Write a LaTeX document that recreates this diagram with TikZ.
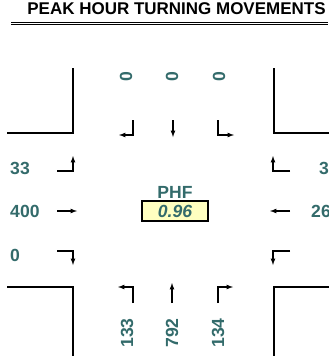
\documentclass[tikz,border=0pt]{standalone}
\usepackage{fontspec}
\setmainfont{Liberation Sans}
\usetikzlibrary{arrows}
\definecolor{volcol}{HTML}{336B6B}
\definecolor{phffill}{HTML}{FFFFC0}
\tikzset{
 vol/.style={text=volcol,font=\fontsize{15}{17}\selectfont\bfseries,inner sep=0pt},
 road/.style={line width=1.6pt},
 mv/.style={->,line width=0.9pt}
}
\begin{document}
\begin{tikzpicture}[x=0.03cm,y=-0.03cm,>=latex]
 \useasboundingbox (0,0) rectangle (328,356);
 \node[inner sep=0pt,font=\fontsize{14.5}{17}\selectfont\bfseries] (title) at (176.5,9) {PEAK HOUR TURNING MOVEMENTS};
 \draw[line width=0.8pt] (11,22.7) -- (328,22.7);
 \draw[line width=0.8pt] (11,24.7) -- (328,24.7);
 \draw[road] (7,133) -- (73,133) -- (73,68);
 \draw[road] (274,68) -- (274,133) -- (330,133);
 \draw[road] (7,287) -- (73,287) -- (73,358);
 \draw[road] (274,358) -- (274,287) -- (330,287);
 \node[vol,rotate=90] (S1) at (126,77) {0};
 \node[vol,rotate=90] (S2) at (172,77) {0};
 \node[vol,rotate=90] (S3) at (219,77) {0};
 \node[vol,anchor=west] (E1) at (10,168) {33};
 \node[vol,anchor=west] (E2) at (10,211) {400};
 \node[vol,anchor=west] (E3) at (10,255) {0};
 \node[vol,anchor=west] (W1) at (319,168) {3};
 \node[vol,anchor=west] (W2) at (311,211) {26};
 \node[vol,rotate=90] (N1) at (127,333) {133};
 \node[vol,rotate=90] (N2) at (172,333) {792};
 \node[vol,rotate=90] (N3) at (218,333) {134};
 \node[vol] (phf) at (175,192) {PHF};
 \node[vol,draw=black,line width=1.5pt,fill=phffill,minimum width=2.0cm,minimum height=0.62cm,font=\fontsize{15}{17}\selectfont\bfseries\itshape] (phfv) at (175,211) {0.96};
 \coordinate (sr0) at (133,120); \coordinate (sr1) at (133,135); \coordinate (sr2) at (119,135);
 \coordinate (st0) at (173,120); \coordinate (st1) at (173,137);
 \coordinate (sl0) at (218,120); \coordinate (sl1) at (218,135); \coordinate (sl2) at (234,135);
 \coordinate (el0) at (57,171); \coordinate (el1) at (73,171); \coordinate (el2) at (73,156);
 \coordinate (et0) at (57,211); \coordinate (et1) at (77,211);
 \coordinate (er0) at (57,251); \coordinate (er1) at (73,251); \coordinate (er2) at (73,265);
 \coordinate (wr0) at (290,171); \coordinate (wr1) at (273,171); \coordinate (wr2) at (273,156);
 \coordinate (wt0) at (290,211); \coordinate (wt1) at (270,211);
 \coordinate (wl0) at (290,251); \coordinate (wl1) at (273,251); \coordinate (wl2) at (273,265);
 \coordinate (nl0) at (133,303); \coordinate (nl1) at (133,287); \coordinate (nl2) at (118,287);
 \coordinate (nt0) at (172,303); \coordinate (nt1) at (172,283);
 \coordinate (nr0) at (218,303); \coordinate (nr1) at (218,287); \coordinate (nr2) at (233,287);
 \draw[mv] (sr0) -- (sr1) -- (sr2);
 \draw[mv] (st0) -- (st1);
 \draw[mv] (sl0) -- (sl1) -- (sl2);
 \draw[mv] (el0) -- (el1) -- (el2);
 \draw[mv] (et0) -- (et1);
 \draw[mv] (er0) -- (er1) -- (er2);
 \draw[mv] (wr0) -- (wr1) -- (wr2);
 \draw[mv] (wt0) -- (wt1);
 \draw[mv] (wl0) -- (wl1) -- (wl2);
 \draw[mv] (nl0) -- (nl1) -- (nl2);
 \draw[mv] (nt0) -- (nt1);
 \draw[mv] (nr0) -- (nr1) -- (nr2);
\end{tikzpicture}
\end{document}
